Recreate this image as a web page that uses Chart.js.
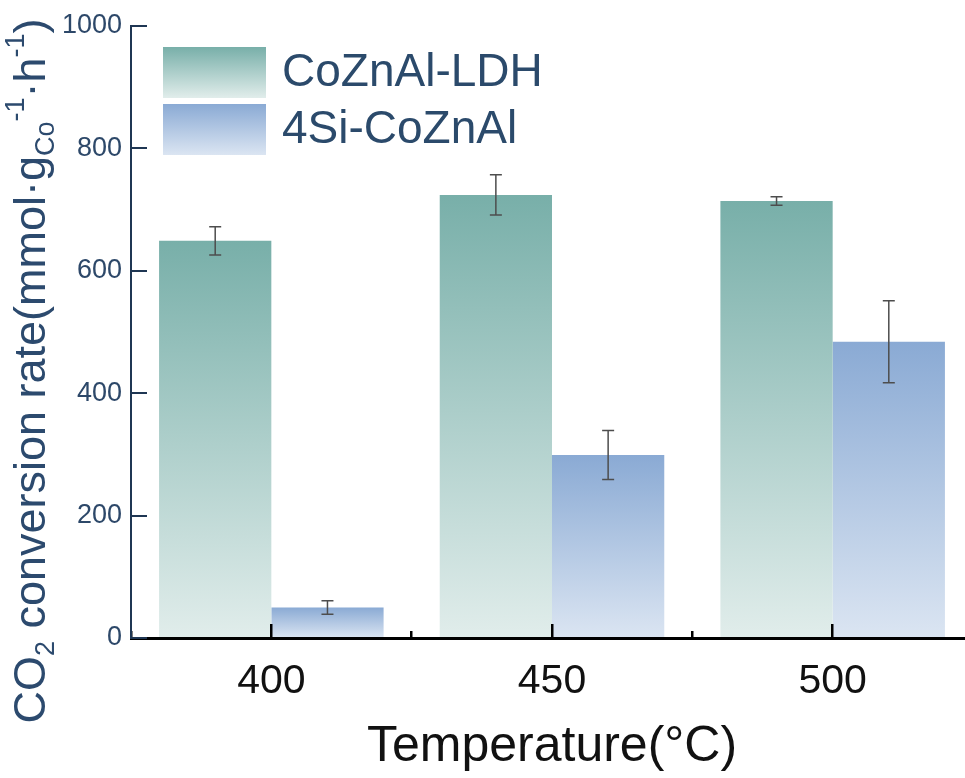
<!DOCTYPE html>
<html><head><meta charset="utf-8">
<script src="https://cdn.jsdelivr.net/npm/chart.js@4.4.1/dist/chart.umd.min.js"></script>
<style>html,body{margin:0;padding:0;background:#fff;overflow:hidden;width:965px;height:778px}canvas{display:block}</style>
</head><body>
<canvas id="c" width="978" height="778"></canvas>
<script>
const categories = ['400', '450', '500'];
const seriesNames = ['CoZnAl-LDH', '4Si-CoZnAl'];
const ldhValues = [649, 724, 714];
const ldhErrors = [23, 33, 7];
const siValues = [50, 299, 484];
const siErrors = [11, 40, 67];
const yTicks = [0, 200, 400, 600, 800, 1000];

const FONT = "'Liberation Sans', Arial, sans-serif";
const ldhTop = '#78afa9', ldhBottom = '#e1edeb';
const siTop = '#8aaad4', siBottom = '#dbe5f2';

function barGradient(top, bottom) {
  return (ctx) => {
    const chart = ctx.chart;
    if (!chart.chartArea || ctx.type !== 'data') return top;
    const ys = chart.scales.y;
    const v = ctx.parsed ? ctx.parsed.y : ctx.raw;
    const py = ys.getPixelForValue(v);
    const p0 = ys.getPixelForValue(0);
    if (!isFinite(py) || Math.abs(p0 - py) < 1) return top;
    const g = chart.ctx.createLinearGradient(0, py, 0, p0);
    g.addColorStop(0, top);
    g.addColorStop(1, bottom);
    return g;
  };
}

const errorBars = {
  id: 'errorBars',
  afterDatasetsDraw(chart) {
    const ctx = chart.ctx, ys = chart.scales.y;
    ctx.save();
    ctx.strokeStyle = '#4d4d4d';
    ctx.lineWidth = 1.5;
    chart.data.datasets.forEach((ds, i) => {
      const meta = chart.getDatasetMeta(i);
      meta.data.forEach((el, j) => {
        const v = ds.data[j], e = ds.errors[j];
        const y1 = ys.getPixelForValue(v + e), y2 = ys.getPixelForValue(v - e);
        const x = el.x, w = 6;
        ctx.beginPath();
        ctx.moveTo(x, y1); ctx.lineTo(x, y2);
        ctx.moveTo(x - w, y1); ctx.lineTo(x + w, y1);
        ctx.moveTo(x - w, y2); ctx.lineTo(x + w, y2);
        ctx.stroke();
      });
    });
    ctx.restore();
  }
};

const customLegend = {
  id: 'customLegend',
  afterDraw(chart) {
    const ctx = chart.ctx, ca = chart.chartArea;
    const bx = 163, by = ca.top + 21, bw = 103, bh = 51, pitch = 57;
    const cols = [[ldhTop, ldhBottom], [siTop, siBottom]];
    ctx.save();
    chart.data.datasets.forEach((ds, i) => {
      const y = by + i * pitch;
      const g = ctx.createLinearGradient(0, y, 0, y + bh);
      g.addColorStop(0, cols[i][0]);
      g.addColorStop(1, cols[i][1]);
      ctx.fillStyle = g;
      ctx.fillRect(bx, y, bw, bh);
      ctx.fillStyle = '#2b4a6b';
      ctx.font = '46px ' + FONT;
      ctx.textBaseline = 'middle';
      ctx.textAlign = 'left';
      ctx.fillText(ds.label, bx + bw + 16, y + bh / 2 + 1);
    });
    ctx.restore();
  }
};

const yTitle = {
  id: 'yTitle',
  afterDraw(chart) {
    const ctx = chart.ctx;
    const big = 45, small = 27;
    const parts = [
      ['CO', big, 0], ['2', small, 9], [' conversion rate(mmol\u00b7g', big, 0],
      ['Co', small, 9], ['-1', small, -21], ['\u00b7h', big, 0], ['-1', small, -21], [')', big, 0]
    ];
    ctx.save();
    ctx.fillStyle = '#2c4a6e';
    ctx.textBaseline = 'alphabetic';
    ctx.textAlign = 'left';
    let total = 0;
    parts.forEach(p => { ctx.font = p[1] + 'px ' + FONT; p.push(ctx.measureText(p[0]).width); total += p[3]; });
    ctx.translate(45, 371);
    ctx.rotate(-Math.PI / 2);
    let x = -total / 2;
    parts.forEach(p => {
      ctx.font = p[1] + 'px ' + FONT;
      ctx.fillText(p[0], x, p[2]);
      x += p[3];
    });
    ctx.restore();
  }
};

new Chart(document.getElementById('c'), {
  type: 'bar',
  data: {
    labels: categories,
    datasets: [
      { label: seriesNames[0], data: ldhValues, errors: ldhErrors,
        backgroundColor: barGradient(ldhTop, ldhBottom), borderWidth: 0,
        barPercentage: 1.0, categoryPercentage: 0.8 },
      { label: seriesNames[1], data: siValues, errors: siErrors,
        backgroundColor: barGradient(siTop, siBottom), borderWidth: 0,
        barPercentage: 1.0, categoryPercentage: 0.8 }
    ]
  },
  options: {
    responsive: false,
    devicePixelRatio: 1,
    animation: false,
    events: [],
    layout: { padding: { left: 0, top: 26, right: 5, bottom: 0 } },
    plugins: { legend: { display: false }, tooltip: { enabled: false } },
    scales: {
      x: {
        type: 'category',
        position: 'bottom',
        weight: 1,
        offset: true,
        grid: { z: 1, offset: false, drawOnChartArea: false, drawTicks: true, tickLength: -14, color: '#000', lineWidth: 2.5 },
        border: { z: 1, display: true, color: '#000', width: 3 },
        ticks: { font: { size: 41, family: FONT }, color: '#111', padding: 33, maxRotation: 0 },
        title: { display: true, text: 'Temperature(\u00b0C)', font: { size: 50, family: FONT }, color: '#111', padding: { top: 0, bottom: 1 } },
        afterFit: (s) => { s.height = 140; s.paddingLeft = 0; s.paddingRight = 0; }
      },
      x2: {
        type: 'category',
        labels: categories,
        position: 'bottom',
        weight: 0,
        offset: true,
        grid: { z: 1, offset: true, drawOnChartArea: false, drawTicks: true, tickLength: -7, color: '#000', lineWidth: 2.5 },
        border: { display: false },
        ticks: { display: false },
        afterFit: (s) => { s.height = 0; s.paddingLeft = 0; s.paddingRight = 0; }
      },
      y: {
        type: 'linear',
        min: 0, max: 1000,
        grid: { z: 1, drawOnChartArea: false, drawTicks: true, tickLength: -16, color: '#1f3653', lineWidth: 2 },
        border: { z: 1, display: true, color: '#1f3653', width: 2 },
        ticks: { font: { size: 27, family: FONT }, color: '#2d4869', padding: 25, callback: (v) => String(v) },
        afterBuildTicks: (s) => { s.ticks = yTicks.map(v => ({ value: v })); },
        afterFit: (s) => { s.width = 131; s.paddingTop = 0; s.paddingBottom = 0; }
      }
    }
  },
  plugins: [errorBars, customLegend, yTitle]
});
</script>
</body></html>
